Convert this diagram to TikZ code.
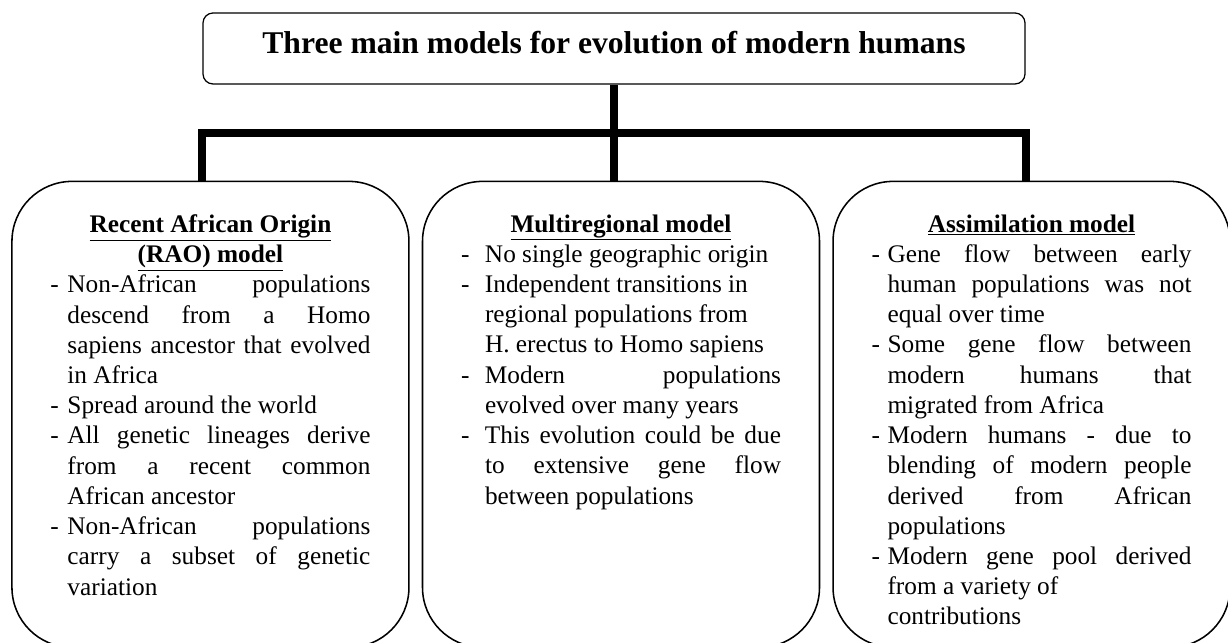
\documentclass[tikz,border=0pt]{standalone}
\usepackage{fontspec}
\setmainfont{Liberation Serif}
\usepackage{tikz}
\usetikzlibrary{
	positioning,
	calc
}

\newcommand{\modeldash}[2]{\par\noindent\hangindent=#1\hangafter=1\makebox[#1][l]{-}#2\par}
\newcommand{\modelhead}[1]{{\centering #1\par}}

\begin{document}
\begin{tikzpicture}[node distance=2.4cm and 0.3cm,
    titlebox/.style={draw, line width=0.9pt, rounded corners=0.25cm, minimum width=20.55cm, minimum height=1.775cm, text depth=8.5pt, font=\fontsize{22.5}{26}\selectfont\bfseries},
    modelbox/.style={draw, line width=1.1pt, rounded corners=1.5cm, minimum width=9.925cm, minimum height=11.65cm},
    modeltext/.style={text width=8cm, align=justify, inner sep=0pt, font=\fontsize{18}{21.5}\selectfont,
        execute at begin node={\tolerance=10000\hyphenpenalty=10000\exhyphenpenalty=10000}},
    trunk/.style={line width=0.2cm}]
        \clip (0,0) rectangle (30.7,16.075);
        \node[titlebox] (title) at (15.35,14.8625) {Three main models for evolution of modern humans};
        \node[modelbox, below=of title, xshift=0.175cm] (multi) {};
        \node[modelbox, left=of multi] (rao) {};
        \node[modelbox, right=of multi] (assim) {};

        % the text of each model hangs from the top of its box
        \node[modeltext, below=0.84cm of rao.north] (raotext) {%
            \modelhead{\underline{\textbf{Recent African Origin}}\\ \underline{\textbf{(RAO) model}}}
            \modeldash{0.425cm}{Non-African populations\linebreak descend from a Homo\linebreak sapiens ancestor that evolved\linebreak in Africa}
            \modeldash{0.425cm}{Spread around the world}
            \modeldash{0.425cm}{All genetic lineages derive\linebreak from a recent common\linebreak African ancestor}
            \modeldash{0.425cm}{Non-African populations\linebreak carry a subset of genetic\linebreak variation}};
        \node[modeltext, below=0.84cm of multi.north] (multitext) {%
            \modelhead{\underline{\textbf{Multiregional model}}}
            \modeldash{0.6cm}{No single geographic origin}
            \modeldash{0.6cm}{Independent transitions in\\ regional populations from\\ H. erectus to Homo sapiens}
            \modeldash{0.6cm}{Modern populations\linebreak evolved over many years}
            \modeldash{0.6cm}{This evolution could be due\linebreak to extensive gene flow\linebreak between populations}};
        \node[modeltext, below=0.84cm of assim.north] (assimtext) {%
            \modelhead{\underline{\textbf{Assimilation model}}}
            \modeldash{0.4cm}{Gene flow between early\linebreak human populations was not\linebreak equal over time}
            \modeldash{0.4cm}{Some gene flow between\linebreak modern humans that\linebreak migrated from Africa}
            \modeldash{0.4cm}{Modern humans - due to\linebreak blending of modern people\linebreak derived from African\linebreak populations}
            \modeldash{0.4cm}{Modern gene pool derived\linebreak from a variety of\\ contributions}};

        \coordinate (fork) at ($(title.south)!0.5!(title.south |- multi.north)$);
        \draw[trunk] (title.south) -- (title.south |- multi.north);
        \draw[trunk] (title.west |- rao.north) |- (fork) -| (title.east |- assim.north); % bar across the three boxes
    \end{tikzpicture}
\end{document}
